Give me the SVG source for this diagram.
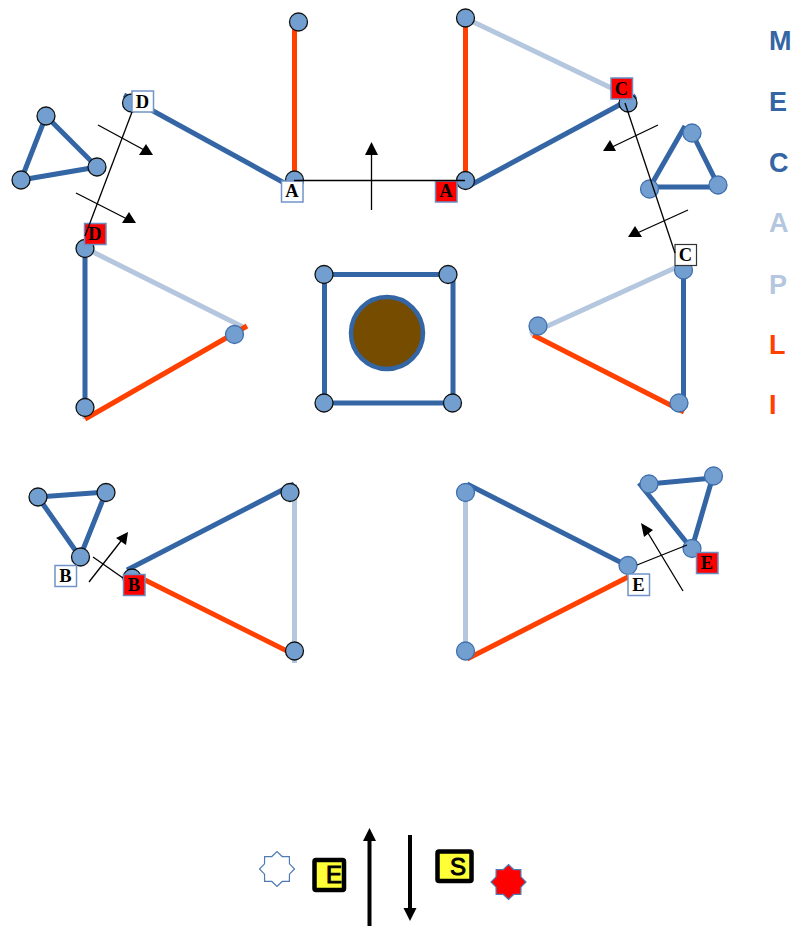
<svg xmlns="http://www.w3.org/2000/svg" width="797" height="926" viewBox="0 0 797 926">
<style>
.b{stroke:#3465a4;stroke-width:5;fill:none}
.l{stroke:#b4c7de;stroke-width:5;fill:none}
.o{stroke:#ff4000;stroke-width:5;fill:none}
.k{stroke:#000;stroke-width:1.3;fill:none}
.a{fill:#000;stroke:none}
.n{fill:#729fcf;stroke:#111;stroke-width:1.3}
.m{fill:#729fcf;stroke:#3f6fae;stroke-width:1.3}
.w{fill:#fff;stroke:#7094c8;stroke-width:1.5}
.r{fill:#f00;stroke:#6a8cc0;stroke-width:1.5}
.t{font-family:"Liberation Serif",serif;font-weight:bold;font-size:18.500px;text-anchor:middle;fill:#000}
.g{font-family:"Liberation Sans",sans-serif;font-weight:bold;font-size:27px}
.y{fill:#ffff38;stroke:#000;stroke-width:4.5}
.s{font-family:"Liberation Sans",sans-serif;font-size:24px;fill:#000;stroke:#000;stroke-width:1}
</style>
<defs>
<polygon id="star" points="17.5,0 12.47,5.17 12.37,12.37 5.17,12.47 0,17.5 -5.17,12.47 -12.37,12.37 -12.47,5.17 -17.5,0 -12.47,-5.17 -12.37,-12.37 -5.17,-12.47 0,-17.5 5.17,-12.47 12.37,-12.37 12.47,-5.17"/>
</defs>
<g id="connectors">
<line class="o" x1="294.5" y1="22" x2="294.5" y2="180"/>
<line class="b" x1="124" y1="95" x2="288" y2="185"/>
<line class="o" x1="465.5" y1="18" x2="465.5" y2="180"/>
<line class="l" x1="465" y1="18" x2="628" y2="96"/>
<line class="b" x1="467" y1="187" x2="636" y2="96"/>
<path class="b" d="M46 116L97 167L21 180Z"/>
<path class="b" d="M685 126L650 187H726M718 185L692 133"/>
<line class="l" x1="85" y1="248" x2="243" y2="327"/>
<line class="l" x1="85" y1="400" x2="85" y2="419"/>
<line class="b" x1="85" y1="248" x2="85" y2="407"/>
<line class="o" x1="85" y1="419" x2="247" y2="326"/>
<line class="l" x1="530" y1="334" x2="677" y2="267"/>
<line class="o" x1="533" y1="335" x2="684" y2="412"/>
<line class="b" x1="683.5" y1="270" x2="683.5" y2="405"/>
<rect class="b" x="324.5" y="274.5" width="128.5" height="128.500"/>
<path class="b" d="M38 497L106 492L80 557Z"/>
<line class="b" x1="127" y1="570" x2="294" y2="484"/>
<line class="o" x1="145" y1="580" x2="295" y2="655"/>
<line class="l" x1="294.500" y1="484" x2="294.500" y2="663"/>
<path class="b" d="M713 476L692 548M687 543L639 483M649 484L713 478"/>
<line class="b" x1="467" y1="484" x2="624" y2="564"/>
<line class="o" x1="467" y1="659" x2="628" y2="577"/>
<line class="l" x1="465.500" y1="492" x2="465.500" y2="651"/>
</g>
<g id="center-disc"><circle cx="387" cy="333" r="36" fill="#754c00" stroke="#3465a4" stroke-width="4.500"/></g>
<g id="nodes">
<g id="n1"><circle class="n" cx="298.500" cy="22" r="9"/></g>
<g id="n2"><circle class="n" cx="294.500" cy="180" r="9"/></g>
<g id="n3"><circle class="n" cx="465.500" cy="18" r="9"/></g>
<g id="n4"><circle class="n" cx="465.500" cy="180.500" r="9"/></g>
<g id="n5"><circle class="n" cx="131.500" cy="103" r="9"/></g>
<g id="n6"><circle class="n" cx="628" cy="103" r="9"/></g>
<g id="n7"><circle class="n" cx="46" cy="116" r="9"/></g>
<g id="n8"><circle class="n" cx="97" cy="167" r="9"/></g>
<g id="n9"><circle class="n" cx="21" cy="180" r="9"/></g>
<g id="n10"><circle class="m" cx="692" cy="133" r="9"/></g>
<g id="n11"><circle class="m" cx="718" cy="185" r="9"/></g>
<g id="n12"><circle class="m" cx="649.500" cy="189" r="9"/></g>
<g id="n13"><circle class="n" cx="85" cy="248.500" r="9"/></g>
<g id="n14"><circle class="n" cx="85" cy="407.500" r="9"/></g>
<g id="n15"><circle class="m" cx="234.500" cy="334.500" r="9"/></g>
<g id="n16"><circle class="m" cx="683.500" cy="270" r="9"/></g>
<g id="n17"><circle class="m" cx="538" cy="326" r="9"/></g>
<g id="n18"><circle class="m" cx="679" cy="403" r="9"/></g>
<g id="n19"><circle class="n" cx="324" cy="274.500" r="9"/></g>
<g id="n20"><circle class="n" cx="448" cy="274.500" r="9"/></g>
<g id="n21"><circle class="n" cx="324" cy="403" r="9"/></g>
<g id="n22"><circle class="n" cx="452.500" cy="403" r="9"/></g>
<g id="n23"><circle class="n" cx="38" cy="497" r="9"/></g>
<g id="n24"><circle class="n" cx="106" cy="492.500" r="9"/></g>
<g id="n25"><circle class="n" cx="80.500" cy="557" r="9"/></g>
<g id="n26"><circle class="n" cx="132" cy="578" r="9"/></g>
<g id="n27"><circle class="n" cx="290" cy="492.500" r="9"/></g>
<g id="n28"><circle class="n" cx="294.500" cy="651" r="9"/></g>
<g id="n29"><circle class="m" cx="465.500" cy="492.500" r="9"/></g>
<g id="n30"><circle class="m" cx="465.500" cy="651" r="9"/></g>
<g id="n31"><circle class="m" cx="628" cy="565.500" r="9"/></g>
<g id="n32"><circle class="m" cx="649" cy="484" r="9"/></g>
<g id="n33"><circle class="m" cx="713.500" cy="476" r="9"/></g>
<g id="n34"><circle class="m" cx="692" cy="548.500" r="9"/></g>
</g>
<g id="labels">
<g id="label-a1"><rect class="w" x="281.500" y="181" width="21.500" height="21"/><text class="t" x="292" y="197">A</text></g>
<g id="label-a2"><rect class="r" x="435.500" y="181" width="21.500" height="21"/><text class="t" x="446" y="197">A</text></g>
<g id="label-b1"><rect class="w" x="55" y="565.500" width="21.500" height="21"/><text class="t" x="65.500" y="582">B</text></g>
<g id="label-b2"><rect class="r" x="123.500" y="574.500" width="21.500" height="21"/><text class="t" x="134" y="591">B</text></g>
<g id="label-c1"><rect class="r" x="611" y="78" width="21.500" height="21"/><text class="t" x="621.500" y="94.500">C</text></g>
<g id="label-c2"><rect x="675" y="244.500" width="21.500" height="21" fill="#fff" stroke="#333" stroke-width="1.200"/><text class="t" x="685.500" y="261">C</text></g>
<g id="label-d1"><rect class="w" x="132" y="91" width="21.500" height="21"/><text class="t" x="142.500" y="107.500">D</text></g>
<g id="label-d2"><rect class="r" x="84.500" y="223.500" width="21.500" height="21"/><text class="t" x="95" y="240">D</text></g>
<g id="label-e1"><rect class="w" x="628" y="574" width="21.500" height="21.500"/><text class="t" x="638.500" y="591">E</text></g>
<g id="label-e2"><rect class="r" x="696.500" y="552.500" width="21.500" height="21"/><text class="t" x="707" y="569">E</text></g>
</g>
<g id="leaders">
<line class="k" x1="294" y1="180.500" x2="465" y2="180.500"/>
<line class="k" x1="132" y1="112" x2="85" y2="236"/>
<line class="k" x1="625" y1="103" x2="675" y2="253"/>
<line class="k" x1="93" y1="557" x2="123" y2="578"/>
<line class="k" x1="637" y1="565" x2="687" y2="545"/>
<line class="k" x1="98" y1="125" x2="146" y2="151"/>
<polygon class="a" points="153,155 139,155 146,144"/>
<line class="k" x1="76" y1="193" x2="129" y2="220"/>
<polygon class="a" points="136,223 122,223 129,212"/>
<line class="k" x1="371.500" y1="210" x2="371.500" y2="152"/>
<polygon class="a" points="371.500,142 365,155 378,155"/>
<line class="k" x1="658" y1="125" x2="610" y2="148"/>
<polygon class="a" points="603,151 616,151 610,140"/>
<line class="k" x1="688" y1="210" x2="635" y2="234"/>
<polygon class="a" points="628,237 642,237 635,226"/>
<line class="k" x1="89" y1="582" x2="121" y2="541"/>
<polygon class="a" points="128,532 116,538 126,545"/>
<line class="k" x1="683" y1="591" x2="648" y2="533"/>
<polygon class="a" points="641,523 653,530 644,537"/>
</g>
<g id="legend">
<text class="g" x="769" y="50" fill="#3465a4">M</text>
<text class="g" x="769" y="111" fill="#3465a4">E</text>
<text class="g" x="769" y="172" fill="#3465a4">C</text>
<text class="g" x="769" y="232" fill="#b4c7de">A</text>
<text class="g" x="769" y="294" fill="#b4c7de">P</text>
<text class="g" x="769" y="354" fill="#ff4000">L</text>
<text class="g" x="769" y="414" fill="#ff4000">I</text>
</g>
<g id="bottom">
<use href="#star" x="277" y="869" fill="#fff" stroke="#4f7bb5" stroke-width="1.200"/>
<use href="#star" x="508.500" y="882" fill="#f00" stroke="#4f7bb5" stroke-width="1.200"/>
<g id="box-e"><rect class="y" x="314.500" y="860" width="29.500" height="30" rx="1.500"/><text class="s" x="326" y="883">E</text></g>
<g id="box-s"><rect class="y" x="437.500" y="851.500" width="34" height="29.500" rx="1.500"/><text class="s" x="450" y="875">S</text></g>
<line x1="369.500" y1="926" x2="369.500" y2="840" stroke="#000" stroke-width="4"/>
<polygon class="a" points="369.500,828 363,841 376,841"/>
<line x1="410" y1="835" x2="410" y2="909" stroke="#000" stroke-width="4"/>
<polygon class="a" points="410,921 403.500,908 416.500,908"/>
</g>
</svg>
